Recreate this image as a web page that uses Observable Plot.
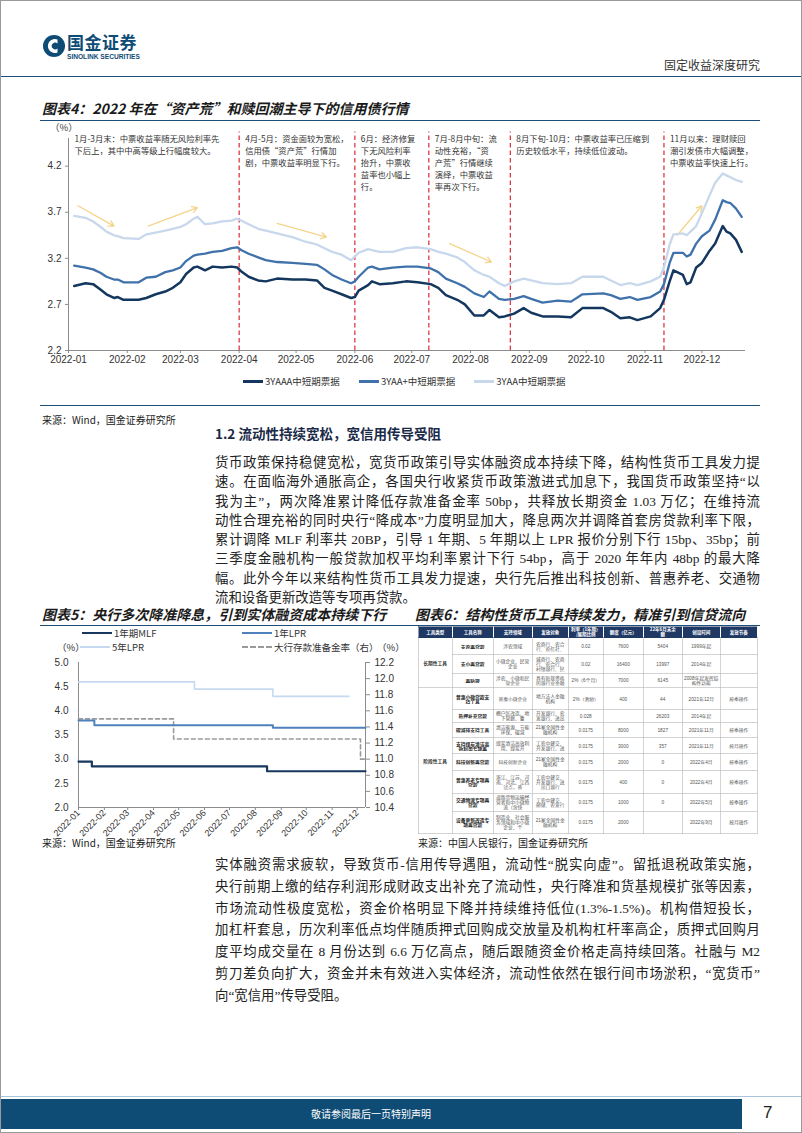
<!DOCTYPE html>
<html><head><meta charset="utf-8">
<script src="https://cdn.jsdelivr.net/npm/d3@7"></script>
<script src="https://cdn.jsdelivr.net/npm/@observablehq/plot@0.6"></script>
<style>
body{margin:0;background:#fff;}
#page{position:relative;width:802px;height:1133px;overflow:hidden;font-family:"Liberation Sans","Noto Sans CJK SC",sans-serif;color:#222;background:#fff;}
.a{position:absolute;white-space:nowrap;}
.cjk{font-family:"Noto Sans CJK SC","Liberation Sans",sans-serif;}
.title{font-family:"Noto Sans CJK SC",sans-serif;font-weight:700;font-style:italic;font-size:14px;line-height:14px;color:#1a1a1a;}
.rule{position:absolute;height:0;border-top:1.5px solid #1f4e79;}
.para{position:absolute;left:215px;width:545px;font-family:"Liberation Serif","Noto Sans CJK SC",serif;font-size:13.4px;color:#222;}
.para div{white-space:nowrap;text-align:justify;text-align-last:justify;}
.para div.last{text-align-last:left;}
.lg{position:absolute;display:flex;align-items:center;font-family:"Noto Sans CJK SC",sans-serif;color:#333;}
.sw{display:inline-block;}
#tbl{position:absolute;left:418px;top:626px;width:678px;transform:scale(0.5);transform-origin:0 0;}
#tbl table{border-collapse:collapse;table-layout:fixed;width:678px;font-family:"Liberation Sans","Noto Sans CJK SC",sans-serif;font-size:9.5px;color:#555;}
#tbl td,#tbl th{border:1px solid #a6a6a6;padding:0 3px;text-align:center;vertical-align:middle;overflow:hidden;}
#tbl th{background:#1f3864;color:#fff;font-weight:700;border:1px solid #1f3864;border-right-color:#fff;font-family:"Noto Sans CJK SC",sans-serif;}
#tbl td.nm{font-weight:700;color:#222;font-family:"Noto Sans CJK SC",sans-serif;}
#tbl td.ty{font-weight:700;color:#333;font-family:"Noto Sans CJK SC",sans-serif;}
#tbl td .c{overflow:hidden;line-height:10px;}
</style></head>
<body><div id="page">
  <!-- header -->
  <svg class="a" style="left:42px;top:34px" width="24" height="24" viewBox="0 0 24 24">
    <circle cx="12" cy="12" r="11" fill="#0e4c75"/>
    <path d="M15.5 5.5 a7 7 0 1 0 0 13 l0 -4 a3.4 3.4 0 1 1 0 -5 z" fill="#fff"/>
    <circle cx="12.3" cy="12" r="2.4" fill="#0e4c75"/>
  </svg>
  <div class="a cjk" style="left:67px;top:33px;font-size:17px;line-height:18px;font-weight:700;color:#0e4c75;letter-spacing:0.5px">国金证券</div>
  <div class="a" style="left:67px;top:53px;font-size:6.6px;line-height:7px;font-weight:700;color:#0e4c75">SINOLINK SECURITIES</div>
  <div class="a cjk" style="right:42px;top:58px;font-size:12px;line-height:13px;color:#333">固定收益深度研究</div>
  <div class="rule" style="left:0;width:802px;top:76px;"></div>

  <!-- chart 4 -->
  <div class="a title" style="left:42px;top:101px">图表4：2022 年在“资产荒”和赎回潮主导下的信用债行情</div>
  <div class="rule" style="left:40px;width:720px;top:120px;"></div>
  <div class="a cjk" style="left:50px;top:122px;font-size:9.5px;line-height:11px;color:#444">（%）</div>
  <div id="c4" class="a" style="left:0;top:122px"></div>
  <div id="lg4" class="lg" style="left:243px;top:375px;font-size:9.5px;line-height:12px;"></div>
  <div class="rule" style="left:40px;width:720px;top:405px;border-top-width:1.2px"></div>
  <div class="a cjk" style="left:42px;top:414px;font-size:10px;line-height:12px;color:#222">来源：Wind，国金证券研究所</div>

  <!-- section 1.2 -->
  <div class="a cjk" style="left:215px;top:426px;font-size:13.5px;line-height:15px;font-weight:700;color:#1a2a48">1.2 流动性持续宽松，宽信用传导受阻</div>
  <div id="p1" class="para"></div>

  <!-- chart 5 & 6 titles -->
  <div class="a title" style="left:42px;top:607px">图表5：央行多次降准降息，引到实体融资成本持续下行</div>
  <div class="a title" style="left:415px;top:607px">图表6：结构性货币工具持续发力，精准引到信贷流向</div>
  <div class="rule" style="left:40px;width:720px;top:625px;"></div>
  <div id="lg5"></div>
  <div id="c5" class="a" style="left:0;top:653px"></div>
  <div id="tbl"></div>
  <div id="src5" class="a cjk" style="left:42px;top:837px;font-size:10px;line-height:12px;color:#222">来源：Wind，国金证券研究所</div>
  <div id="src6" class="a cjk" style="left:418px;top:837px;font-size:10px;line-height:12px;color:#222">来源：中国人民银行，国金证券研究所</div>
  <div id="p2" class="para"></div>

  <!-- footer -->
  <div class="a" style="left:0;top:1096px;width:802px;height:0;border-top:1px solid #a9c5dc"></div>
  <div class="a cjk" style="left:0;top:1099px;width:742px;height:30px;background:#0e4c75;color:#fff;font-size:10px;line-height:30px;text-align:center">敬请参阅最后一页特别声明</div>
  <div class="a" style="left:763px;top:1103px;font-size:17px;line-height:20px;color:#222">7</div>
  <div class="a" style="left:0;top:0;width:800px;height:1131px;border:1px solid #9a9a9a;pointer-events:none"></div>
</div>
<script>
const fontStack = '"Liberation Sans","Noto Sans CJK SC",sans-serif';
const cjkFont = '"Noto Sans CJK SC","Liberation Sans",sans-serif';
const P = s => new Date(s);

/* ---------- 图表4 data ---------- */
const dates4 = ["2022-01-04","2022-01-10","2022-01-14","2022-01-18","2022-01-21","2022-01-25","2022-01-27","2022-01-30",
"2022-02-07","2022-02-11","2022-02-16","2022-02-21","2022-02-25",
"2022-03-01","2022-03-04","2022-03-08","2022-03-10","2022-03-14","2022-03-18","2022-03-23","2022-03-28","2022-03-31",
"2022-04-02","2022-04-06","2022-04-11","2022-04-15","2022-04-21","2022-04-29",
"2022-05-06","2022-05-12","2022-05-16","2022-05-20","2022-05-25","2022-05-30",
"2022-06-01","2022-06-03","2022-06-08","2022-06-10","2022-06-14","2022-06-21","2022-06-28",
"2022-07-04","2022-07-11","2022-07-15","2022-07-19","2022-07-25","2022-07-29",
"2022-08-03","2022-08-08","2022-08-11","2022-08-16","2022-08-19","2022-08-24","2022-08-29",
"2022-09-02","2022-09-08","2022-09-16","2022-09-23","2022-09-29",
"2022-10-10","2022-10-14","2022-10-19","2022-10-24","2022-10-28",
"2022-11-04","2022-11-09","2022-11-11","2022-11-14","2022-11-16","2022-11-21","2022-11-23","2022-11-25","2022-11-28",
"2022-12-01","2022-12-05","2022-12-08","2022-12-12","2022-12-14","2022-12-16","2022-12-19","2022-12-22"];
const aaa = [2.90,2.93,2.92,2.86,2.81,2.77,2.78,2.75,
2.75,2.77,2.81,2.84,2.88,
2.94,3.03,3.10,3.11,3.07,3.11,3.10,3.11,3.10,
3.06,3.00,2.96,2.95,2.98,2.97,
2.97,2.96,2.88,2.85,2.81,2.77,
2.78,2.85,2.91,2.95,2.92,2.93,2.95,
2.94,2.92,2.88,2.80,2.75,2.70,
2.58,2.58,2.64,2.56,2.57,2.60,2.66,
2.61,2.57,2.57,2.56,2.66,
2.66,2.62,2.55,2.56,2.53,
2.57,2.66,2.75,2.95,3.07,3.02,2.92,2.94,3.10,
3.15,3.28,3.36,3.55,3.49,3.47,3.40,3.27];
const aaPlus = [3.12,3.10,3.08,3.04,3.00,2.97,2.97,2.94,
2.94,2.99,3.00,3.05,3.07,
3.10,3.17,3.23,3.24,3.25,3.27,3.28,3.31,3.32,
3.29,3.25,3.21,3.18,3.16,3.15,
3.14,3.13,3.08,3.02,2.97,2.93,
2.95,3.00,3.10,3.11,3.08,3.10,3.11,
3.11,3.09,3.05,2.98,2.93,2.89,
2.82,2.78,2.84,2.76,2.75,2.76,2.79,
2.76,2.72,2.74,2.73,2.81,
2.82,2.80,2.76,2.78,2.75,
2.78,2.84,2.92,3.15,3.26,3.26,3.22,3.24,3.36,
3.44,3.50,3.62,3.83,3.81,3.80,3.74,3.65];
const aa = [3.66,3.64,3.60,3.54,3.49,3.45,3.44,3.42,
3.41,3.46,3.48,3.50,3.52,
3.54,3.57,3.63,3.65,3.57,3.58,3.60,3.61,3.63,
3.61,3.57,3.52,3.50,3.47,3.43,
3.38,3.35,3.31,3.27,3.24,3.18,
3.22,3.26,3.30,3.29,3.27,3.27,3.31,
3.32,3.30,3.27,3.25,3.21,3.16,
3.07,3.02,3.00,2.93,2.90,2.95,2.98,
2.96,2.93,2.92,2.93,3.00,
3.00,2.96,2.91,2.93,2.91,
2.95,3.00,3.10,3.35,3.46,3.47,3.45,3.49,3.55,
3.69,3.88,4.02,4.12,4.10,4.08,4.05,4.03];
const seriesNames4 = ["3YAAA中短期票据","3YAA+中短期票据","3YAA中短期票据"];
const seriesColors4 = ["#14375f","#3f71aa","#c8d8ec"];
const yTicks4 = [2.2,2.7,3.2,3.7,4.2];
const breakDates = ["2022-04-01","2022-06-01","2022-07-10","2022-08-22","2022-11-11"];
const noteDates = ["2022-01-01","2022-04-01","2022-06-01","2022-07-10","2022-08-22","2022-11-11"];
const noteTexts = [
 "1月-3月末：中票收益率随无风险利率先\n下后上，其中中高等级上行幅度较大。",
 "4月-5月：资金面较为宽松，\n信用债“资产荒”行情加\n剧，中票收益率明显下行。",
 "6月：经济修复\n下无风险利率\n抬升，中票收\n益率也小幅上\n行。",
 "7月-8月中旬：流\n动性充裕，“资\n产荒”行情继续\n演绎，中票收益\n率再次下行。",
 "8月下旬-10月：中票收益率已压缩到\n历史较低水平，持续低位波动。",
 "11月以来：理财赎回\n潮引发债市大幅调整，\n中票收益率快速上行。"
];
const arrowFrom = [["2022-01-06",3.77],["2022-02-12",3.55],["2022-04-21",3.58],["2022-07-21",3.36],["2022-11-18",3.45]];
const arrowTo   = [["2022-01-25",3.55],["2022-03-10",3.75],["2022-05-17",3.43],["2022-08-12",3.16],["2022-12-01",3.77]];

const rows4 = dates4.map((d, i) => ({date: P(d), aaa: aaa[i], aap: aaPlus[i], aa: aa[i]}));
const notes = noteDates.map((d, i) => ({date: P(d), text: noteTexts[i]}));
const arrows = arrowFrom.map((f, i) => ({x1: P(f[0]), y1: f[1], x2: P(arrowTo[i][0]), y2: arrowTo[i][1]}));
const months4 = d3.utcMonths(P("2022-01-01"), P("2022-12-02"));

const c4 = Plot.plot({
  width: 802, height: 250,
  marginTop: 16, marginRight: 57, marginBottom: 22, marginLeft: 68,
  style: {fontFamily: fontStack, fontSize: "10px", color: "#333", background: "transparent", overflow: "visible"},
  x: {type: "utc", domain: [P("2022-01-01"), P("2022-12-24")]},
  y: {domain: [2.2, 4.5]},
  marks: [
    Plot.ruleX(breakDates.map(P), {y1: 2.2, y2: 4.57, stroke: "#dc3a44", strokeWidth: 1.3, strokeDasharray: "4.5,3"}),
    Plot.ruleY([2.2], {stroke: "#8c8c8c"}),
    Plot.ruleX([P("2022-01-01")], {y1: 2.2, y2: 4.5, stroke: "#8c8c8c"}),
    Plot.arrow(arrows, {x1: "x1", y1: "y1", x2: "x2", y2: "y2", stroke: "#f4d48a", strokeWidth: 1.3, headLength: 7}),
    Plot.line(rows4, {x: "date", y: "aa", stroke: seriesColors4[2], strokeWidth: 2.3}),
    Plot.line(rows4, {x: "date", y: "aap", stroke: seriesColors4[1], strokeWidth: 2.3}),
    Plot.line(rows4, {x: "date", y: "aaa", stroke: seriesColors4[0], strokeWidth: 2.5}),
    Plot.text(notes, {x: "date", text: "text", frameAnchor: "top", textAnchor: "start", lineAnchor: "top", dx: 6, dy: -5, fontSize: 8.3, lineHeight: 1.45, fill: "#333", fontFamily: cjkFont}),
    Plot.axisY({ticks: yTicks4, tickFormat: v => v.toFixed(1), tickSize: 3, tickPadding: 4, label: null, stroke: "#8c8c8c"}),
    Plot.axisX({ticks: months4, tickFormat: "%Y-%m", tickSize: 3, tickPadding: 2, label: null, stroke: "#8c8c8c"})
  ]
});
document.getElementById("c4").appendChild(c4);

const lg4 = document.getElementById("lg4");
seriesNames4.forEach((n, i) => {
  const it = document.createElement("div");
  it.style.cssText = "display:flex;align-items:center;margin-right:" + (i < 2 ? 19 : 0) + "px";
  it.innerHTML = `<span class="sw" style="width:20px;height:3px;background:${seriesColors4[i]};margin-right:2px"></span><span>${n}</span>`;
  lg4.appendChild(it);
});

/* ---------- paragraphs ---------- */
const para1 = [
 "货币政策保持稳健宽松，宽货币政策引导实体融资成本持续下降，结构性货币工具发力提",
 "速。在面临海外通胀高企，各国央行收紧货币政策激进式加息下，我国货币政策坚持“以",
 "我为主”，两次降准累计降低存款准备金率 50bp，共释放长期资金 1.03 万亿；在维持流",
 "动性合理充裕的同时央行“降成本”力度明显加大，降息两次并调降首套房贷款利率下限，",
 "累计调降 MLF 利率共 20BP，引导 1 年期、5 年期以上 LPR 报价分别下行 15bp、35bp；前",
 "三季度金融机构一般贷款加权平均利率累计下行 54bp，高于 2020 年年内 48bp 的最大降",
 "幅。此外今年以来结构性货币工具发力提速，央行先后推出科技创新、普惠养老、交通物",
 "流和设备更新改造等专项再贷款。"
];
const para2 = [
 "实体融资需求疲软，导致货币-信用传导遇阻，流动性“脱实向虚”。留抵退税政策实施，",
 "央行前期上缴的结存利润形成财政支出补充了流动性，央行降准和货基规模扩张等因素，",
 "市场流动性极度宽松，资金价格明显下降并持续维持低位(1.3%-1.5%)。机构借短投长，",
 "加杠杆套息，历次利率低点均伴随质押式回购成交放量及机构杠杆率高企，质押式回购月",
 "度平均成交量在 8 月份达到 6.6 万亿高点，随后跟随资金价格走高持续回落。社融与 M2",
 "剪刀差负向扩大，资金并未有效进入实体经济，流动性依然在银行间市场淤积，“宽货币”",
 "向“宽信用”传导受阻。"
];
function fillPara(id, lines, top, lh) {
  const el = document.getElementById(id);
  el.style.top = top + "px";
  lines.forEach((t, i) => {
    const d = document.createElement("div");
    d.textContent = t;
    d.style.height = lh + "px";
    d.style.lineHeight = lh + "px";
    if (i === lines.length - 1) d.className = "last";
    el.appendChild(d);
  });
}
fillPara("p1", para1, 453, 19.3);
fillPara("p2", para2, 854, 21.8);

/* ---------- 图表5 data ---------- */
const mlfDates = ["2022-01-01","2022-01-17","2022-08-15","2022-12-11"];
const mlf = [2.95,2.85,2.75,2.75];
const lpr1Dates = ["2022-01-01","2022-01-20","2022-08-22","2022-12-11"];
const lpr1 = [3.80,3.70,3.65,3.65];
const lpr5Dates = ["2022-01-01","2022-05-20","2022-08-22","2022-11-21"];
const lpr5 = [4.60,4.45,4.30,4.30];
const rrrDates = ["2022-01-01","2022-04-25","2022-12-05","2022-12-10"];
const rrr = [11.50,11.25,11.00,11.00];
const leftTicks5 = [2.0,2.5,3.0,3.5,4.0,4.5,5.0];
const rightTicks5 = [10.4,10.6,10.8,11.0,11.2,11.4,11.6,11.8,12.0,12.2];
const names5 = ["1年期MLF","1年LPR","5年LPR","大行存款准备金率（右）"];
const colors5 = ["#17375e","#4f81bd","#c6d9f0","#9a9a9a"];
const toLeft = v => 2 + (v - 10.4) * (3 / 1.8);
const toRight = v => (v - 2) * (1.8 / 3) + 10.4;
const mk = (ds, vs) => ds.map((d, i) => ({date: P(d), v: vs[i]}));
const months5 = d3.utcMonths(P("2022-01-01"), P("2022-12-02"));

const c5 = Plot.plot({
  width: 410, height: 196,
  marginTop: 9, marginRight: 45, marginBottom: 42, marginLeft: 78,
  style: {fontFamily: fontStack, fontSize: "10px", color: "#333", background: "transparent", overflow: "visible"},
  x: {type: "utc", domain: [P("2022-01-01"), P("2022-12-11")]},
  y: {domain: [2, 5]},
  marks: [
    Plot.ruleY([2], {stroke: "#8c8c8c"}),
    Plot.ruleX([P("2022-01-01"), P("2022-12-11")], {y1: 2, y2: 5, stroke: "#8c8c8c"}),
    Plot.line(mk(lpr5Dates, lpr5), {x: "date", y: "v", curve: "step-after", stroke: colors5[2], strokeWidth: 1.6}),
    Plot.line(mk(rrrDates, rrr), {x: "date", y: d => toLeft(d.v), curve: "step-after", stroke: colors5[3], strokeWidth: 1.6, strokeDasharray: "4,3"}),
    Plot.line(mk(lpr1Dates, lpr1), {x: "date", y: "v", curve: "step-after", stroke: colors5[1], strokeWidth: 2}),
    Plot.line(mk(mlfDates, mlf), {x: "date", y: "v", curve: "step-after", stroke: colors5[0], strokeWidth: 2.2}),
    Plot.axisY({ticks: leftTicks5, tickFormat: v => v.toFixed(1), tickSize: 0, tickPadding: 10, label: null}),
    Plot.axisY({anchor: "right", ticks: rightTicks5.map(toLeft), tickFormat: v => toRight(v).toFixed(1), tickSize: 4, tickPadding: 5, label: null, stroke: "#8c8c8c"}),
    Plot.axisX({ticks: months5, tickFormat: "%Y-%m", tickRotate: -45, tickSize: 3, tickPadding: 1, label: null, stroke: "#8c8c8c", fontSize: 9})
  ]
});
document.getElementById("c5").appendChild(c5);

const lg5 = document.getElementById("lg5");
const lgItems5 = [
  {left: 82, top: 627, i: 0},
  {left: 242, top: 627, i: 1},
  {left: 80, top: 641, i: 2},
  {left: 242, top: 641, i: 3}
];
lgItems5.forEach(o => {
  const it = document.createElement("div");
  it.className = "lg";
  it.style.cssText += `left:${o.left}px;top:${o.top}px;font-size:9.5px;line-height:12px;`;
  const dash = o.i === 3;
  const sw = dash
    ? `<span class="sw" style="width:30px;height:0;border-top:2px dashed ${colors5[3]};margin-right:2px"></span>`
    : `<span class="sw" style="width:30px;height:${o.i === 2 ? 2 : 2.5}px;background:${colors5[o.i]};margin-right:2px"></span>`;
  it.innerHTML = sw + `<span>${names5[o.i]}</span>`;
  lg5.appendChild(it);
});
[[57, 641], [377, 641]].forEach(([l, t]) => {
  const u = document.createElement("div");
  u.className = "a cjk";
  u.style.cssText = `left:${l}px;top:${t}px;font-size:9.5px;line-height:12px;color:#333`;
  u.textContent = "（%）";
  lg5.appendChild(u);
});

/* ---------- 图表6 table ---------- */
const tableHead = ["工具类型","工具名称","支持领域","发放对象","利率（1年期）<br>/展期比例","额度（亿元）","22年6月末余<br>额","创设时间","发放节奏"];
const colWidths = [68,82,78,72,70,80,78,76,74];
const toolTypes = [["长期性工具", 3], ["阶段性工具", 8]];
const toolRows = [
 ["支农再贷款","涉农领域","农商行、农合行、农信社、","0.02","7600","5404","1999年起",""],
 ["支小再贷款","小微企业、民营企业","城商行、农商行、农合行、村镇银行、民","0.02","16400","13997","2014年起",""],
 ["再贴现","涉农、小微和民营企业","具有贴现资格的银行业金融","2%（6个月）","7000","6145","2008年起发挥结构性功能",""],
 ["普惠小微贷款支持工具","普惠小微企业","地方法人金融机构","2%（激励）","400","44","2021年12月","按季操作"],
 ["抵押补充贷款","棚户区改造、地下管廊、重","开发银行、农发银行、进出","0.028","","26203","2014年起",""],
 ["碳减排支持工具","清洁能源、节能环保、碳减","21家全国性金融机构","0.0175","8000","1827","2021年11月","按季操作"],
 ["支持煤炭清洁高效利用专项再","煤炭清洁高效利用、煤炭开","工农中建交、开发银行、进","0.0175","3000","357","2021年11月","按月操作"],
 ["科技创新再贷款","科技创新企业","21家全国性金融机构","0.0175","2000","0","2022年4月","按季操作"],
 ["普惠养老专项再贷款","浙江、江苏、河南、河北、江西试点，普","工农中建交、开发银行、进出口银行","0.0175","400","0","2022年4月","按季操作"],
 ["交通物流专项再贷款","道路货物运输经营者和中小微物流（含快","工农中建交、邮储、农发行","0.0175","1000","0","2022年5月","按季操作"],
 ["设备更新改造专项再贷款","制造业、社会服务领域和中小微企业、个","21家全国性金融机构","0.0175","2000","","2022年9月","按月操作"]
];
const rowHeights = [33,36,28,43,24,30,31,32,45,35,44];
let html = "<table><colgroup>" + colWidths.map(w => `<col style="width:${w}px">`).join("") + "</colgroup>";
html += `<tr style="height:22px">` + tableHead.map(h => `<th style="height:22px"><div class="c" style="line-height:10px;font-size:9px;max-height:21px">${h}</div></th>`).join("") + "</tr>";
let typeIdx = 0, typeLeft = 0;
toolRows.forEach((r, i) => {
  const h = rowHeights[i];
  html += `<tr style="height:${h}px">`;
  if (typeLeft === 0) {
    const [tn, span] = toolTypes[typeIdx++];
    typeLeft = span;
    html += `<td class="ty" rowspan="${span}">${tn}</td>`;
  }
  typeLeft--;
  const maxH = Math.floor((h - 4) / 10) * 10;
  r.forEach((c, j) => {
    html += `<td class="${j === 0 ? "nm" : ""}" style="height:${h}px"><div class="c" style="max-height:${maxH}px">${c}</div></td>`;
  });
  html += "</tr>";
});
html += "</table>";
document.getElementById("tbl").innerHTML = html;
</script>
</body></html>
